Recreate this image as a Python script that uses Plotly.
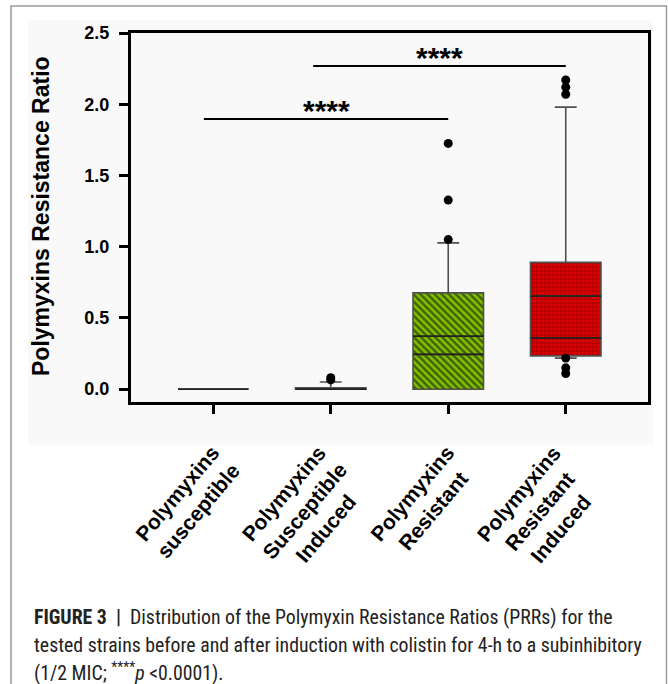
import plotly.graph_objects as go

# ---------------- data ----------------
categories = ["Polymyxins<br>susceptible", "Polymyxins<br>Susceptible<br>Induced",
              "Polymyxins<br>Resistant", "Polymyxins<br>Resistant<br>Induced"]
q1 = [0.0, 0.0, 0.0, 0.234]
median = [0.0, 0.0, 0.244, 0.653]
q3 = [0.0, 0.01, 0.676, 0.89]
mean_line = [0.0, 0.0, 0.372, 0.36]
lower_fence = [0.0, 0.0, 0.0, 0.218]
upper_fence = [0.0, 0.05, 1.027, 1.98]
outliers = [[], [0.065, 0.08], [1.05, 1.327, 1.725], [0.218, 0.15, 0.11, 2.07, 2.12, 2.17]]
y_ticks = [0.0, 0.5, 1.0, 1.5, 2.0, 2.5]
# significance brackets: (start, end, height, label)
sig_start = [-0.08, 0.85]
sig_end = [2.0, 3.0]
sig_y = [1.896, 2.268]
sig_label = ["****", "****"]

fill_bg = [None, None, "#84c200", "#e00000"]
fill_fg = [None, None, "#000000", "#3a0000"]
fill_shape = [None, None, "\\", "+"]
fill_size = [None, None, 5, 4]
fill_solid = [None, None, 0.5, 0.3]

# ---------------- layout geometry ----------------
FW, FH = 668, 684
ML, MR, MT, MB = 131, 20, 33, 282
PW, PH = FW - ML - MR, FH - MT - MB


def px_x(p):
    return (p - ML) / PW


def px_y(p):
    return (FH - MB - p) / PH


BOX_W = 0.6
fig = go.Figure()

# patterned fills (bars under the boxes)
for i in range(len(categories)):
    if fill_bg[i] is None:
        continue
    fig.add_trace(go.Bar(
        x=[i], y=[q3[i] - q1[i]], base=[q1[i]], width=BOX_W,
        marker=dict(color=fill_bg[i],
                    pattern=dict(shape=fill_shape[i], fgcolor=fill_fg[i],
                                 bgcolor=fill_bg[i], size=fill_size[i],
                                 solidity=fill_solid[i]),
                    line=dict(width=0)),
        showlegend=False, hoverinfo="skip"))

# boxes
for i in range(len(categories)):
    fig.add_trace(go.Box(
        x=[i], q1=[q1[i]], median=[median[i]], q3=[q3[i]],
        lowerfence=[lower_fence[i]], upperfence=[upper_fence[i]],
        width=BOX_W, whiskerwidth=0.31,
        fillcolor="rgba(0,0,0,0)", line=dict(color="#505050", width=1.6),
        boxpoints=False, showlegend=False))

# second (mean) line inside boxes
for i in range(len(categories)):
    if mean_line[i] == median[i]:
        continue
    fig.add_trace(go.Scatter(
        x=[i - BOX_W / 2, i + BOX_W / 2], y=[mean_line[i], mean_line[i]],
        mode="lines", line=dict(color="#202020", width=1.8),
        showlegend=False, hoverinfo="skip"))
# emphasise the medians in black
for i in range(len(categories)):
    fig.add_trace(go.Scatter(
        x=[i - BOX_W / 2, i + BOX_W / 2], y=[median[i], median[i]],
        mode="lines", line=dict(color="#202020", width=1.8),
        showlegend=False, hoverinfo="skip"))

# outliers
for i, pts in enumerate(outliers):
    if not pts:
        continue
    fig.add_trace(go.Scatter(
        x=[i] * len(pts), y=pts, mode="markers",
        marker=dict(color="black", size=9),
        showlegend=False, hoverinfo="skip"))

# significance lines
for s, e, yv, lab in zip(sig_start, sig_end, sig_y, sig_label):
    fig.add_trace(go.Scatter(x=[s, e], y=[yv, yv], mode="lines",
                             line=dict(color="black", width=2),
                             showlegend=False, hoverinfo="skip"))
    fig.add_annotation(x=(s + e) / 2, y=yv, text="<b>" + lab + "</b>", showarrow=False,
                       xanchor="center", yanchor="middle", yshift=9,
                       font=dict(family="Liberation Sans, Arial", size=30,
                                 color="black"))

# x category labels (rotated, centred lines)
for i, lab in enumerate(categories):
    fig.add_annotation(x=i - 0.22, xref="x", y=px_y(438), yref="paper",
                       text="<b>" + lab + "</b>", showarrow=False,
                       textangle=-50, xanchor="center", yanchor="top",
                       align="center",
                       font=dict(family="Liberation Sans, Arial", size=21, color="black"))

# y axis title
fig.add_annotation(x=px_x(41), y=px_y(216), xref="paper", yref="paper",
                   text="<b>Polymyxins Resistance Ratio</b>", showarrow=False,
                   textangle=-90, xanchor="center", yanchor="middle",
                   font=dict(family="Liberation Sans, Arial", size=23, color="black"))

# caption
cap_font = "Liberation Sans Narrow, Roboto Condensed, Arial Narrow, Liberation Sans"
caption_lines = [
    "<b>FIGURE 3</b>  <b>|</b>  Distribution of the Polymyxin Resistance Ratios (PRRs) for the",
    "tested strains before and after induction with colistin for 4-h to a subinhibitory",
    "(1/2 MIC; <sup>****</sup><i>p</i> &lt;0.0001).",
]
caption_y = [617, 645, 672]
for line, yy in zip(caption_lines, caption_y):
    fig.add_annotation(x=px_x(32), y=px_y(yy), xref="paper", yref="paper",
                       text=line, showarrow=False, xanchor="left", yanchor="middle",
                       font=dict(family=cap_font, size=19.8, color="#222222"))

# page frame and scan background
fig.add_shape(type="rect", xref="paper", yref="paper",
              x0=px_x(28), x1=px_x(653), y0=px_y(445), y1=px_y(20),
              fillcolor="#f9f9f9", line=dict(width=0), layer="below")
fig.add_shape(type="rect", xref="paper", yref="paper",
              x0=px_x(11), x1=px_x(666.5), y0=px_y(700), y1=px_y(6),
              fillcolor="rgba(0,0,0,0)", line=dict(color="#9a9a9a", width=1.5),
              layer="below")

fig.update_layout(
    width=FW, height=FH,
    margin=dict(l=ML, r=MR, t=MT, b=MB),
    paper_bgcolor="white", plot_bgcolor="rgba(0,0,0,0)",
    showlegend=False, barmode="overlay",
    font=dict(family="Liberation Sans, Arial", color="black"),
)
fig.update_xaxes(range=[-0.7, 3.7], tickvals=list(range(len(categories))),
                 showticklabels=False, ticks="outside", ticklen=9, tickwidth=2.5,
                 tickcolor="black", showline=True, linewidth=3, linecolor="black",
                 mirror=True, showgrid=False, zeroline=False)
fig.update_yaxes(range=[-0.09, 2.5], tickvals=y_ticks,
                 ticktext=["<b>%.1f</b>" % v for v in y_ticks],
                 tickfont=dict(size=18, family="Liberation Sans, Arial"),
                 ticks="outside", ticklen=9, tickwidth=2.5, tickcolor="black",
                 ticklabelstandoff=6,
                 showline=True, linewidth=3, linecolor="black", mirror=True,
                 showgrid=False, zeroline=False)

fig.write_html("out.html", config={"displayModeBar": False},
               post_script="document.body.style.margin='0px';document.body.style.overflow='hidden';")
